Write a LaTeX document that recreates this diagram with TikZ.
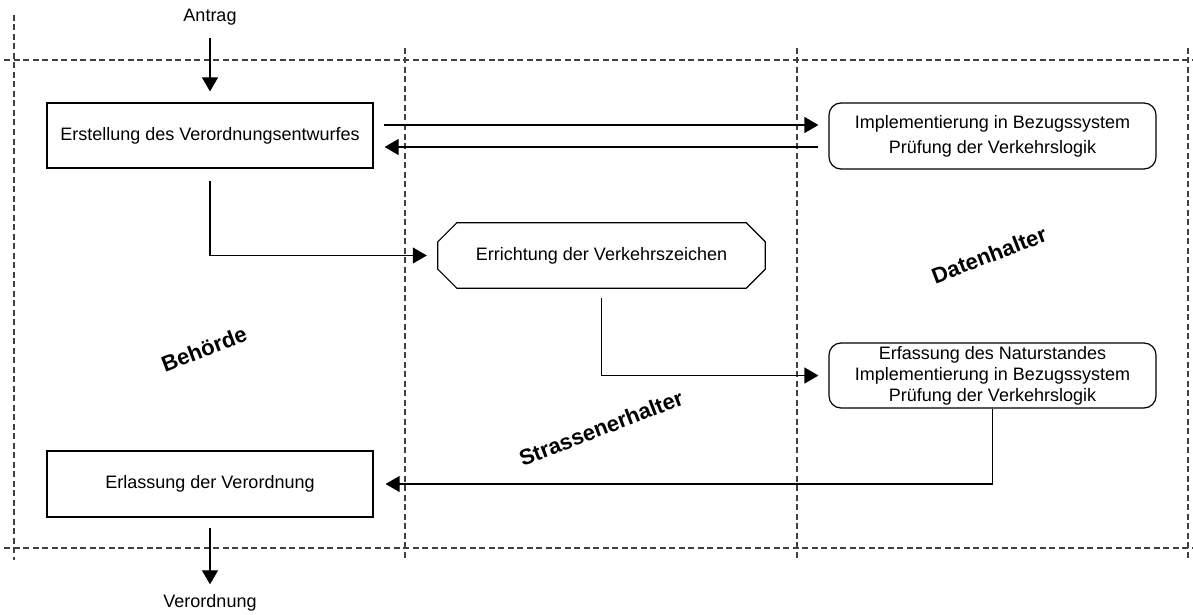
\documentclass[tikz,border=0pt]{standalone}
\usepackage{fontspec}
\setmainfont{Liberation Sans}
\usetikzlibrary{arrows.meta,calc}
\begin{document}
\begin{tikzpicture}[x=1pt,y=-1pt,
  lane/.style={draw=black!75,line width=1.3pt,dash pattern=on 6pt off 3.5pt},
  txt/.style={font=\fontsize{18}{21}\selectfont,inner sep=0pt,text height=13pt,text depth=4pt},
  rectbox/.style={draw,line width=1.2pt,inner sep=0pt,font=\fontsize{18}{21}\selectfont,align=center},
  rbox/.style={rectbox,rounded corners=12pt},
  lanelabel/.style={font=\bfseries\fontsize{22}{24}\selectfont,rotate=21},
  arr/.style={line width=1.2pt,-{Triangle[length=14pt,width=16pt]}},
]
\useasboundingbox (0,0) rectangle (1193,615);
% swimlane lines
\draw[lane] (4,60) -- (1193,60);
\draw[lane] (4,548) -- (1193,548);
\draw[lane] (14,15) -- (14,560);
\draw[lane] (405,48) -- (405,558);
\draw[lane] (797,48) -- (797,558);
\draw[lane] (1188,48) -- (1188,558);
% lane labels
\node[lanelabel] (behoerde) at (204,349) {Behörde};
\node[lanelabel] (strasse) at (601,428) {Strassenerhalter};
\node[lanelabel] (daten) at (989,255) {Datenhalter};
% nodes
\node[txt] (antrag) at (210,17) {Antrag};
\node[txt] (verordnung) at (210,603) {Verordnung};
\node[rectbox,minimum width=326pt,minimum height=65pt] (ersteller) at (210,135.5) {Erstellung des Verordnungsentwurfes};
\node[rectbox,minimum width=326pt,minimum height=66pt] (erl) at (210,484) {Erlassung der Verordnung};
\node[rbox,minimum width=327pt,minimum height=66pt,font=\fontsize{18}{25}\selectfont] (rb1) at (992.5,136) {Implementierung in Bezugssystem\\Prüfung der Verkehrslogik};
\node[rbox,minimum width=327pt,minimum height=65pt,font=\fontsize{18}{21}\selectfont] (rb2) at (992.5,375.5) {Erfassung des Naturstandes\\Implementierung in Bezugssystem\\Prüfung der Verkehrslogik};
\node[inner sep=0pt,minimum width=327pt,minimum height=65pt,font=\fontsize{18}{21}\selectfont] (oct) at (601.5,255.5) {Errichtung der Verkehrszeichen};
\draw[line width=1.2pt] ([xshift=19pt]oct.north west) -- ([xshift=-19pt]oct.north east)
  -- ([yshift=-19pt]oct.north east) -- ([yshift=19pt]oct.south east)
  -- ([xshift=-19pt]oct.south east) -- ([xshift=19pt]oct.south west)
  -- ([yshift=19pt]oct.south west) -- ([yshift=-19pt]oct.north west) -- cycle;
% connectors
\draw[arr,shorten <=12.5pt,shorten >=11pt] (antrag.south) -- (ersteller.north);
\draw[arr,shorten <=10pt,shorten >=10pt] (erl.south) -- (verordnung.north);
\draw[arr,shorten <=12pt,shorten >=11pt] (ersteller.south) |- (oct.west);
\draw[arr,shorten <=10pt,shorten >=10pt] (oct.south) |- (rb2.west);
\draw[arr,shorten <=10pt,shorten >=10pt] ($(ersteller.east|-rb1.west)+(0,-11)$) -- ($(rb1.west)+(0,-11)$);
\draw[arr,shorten <=10pt,shorten >=11pt] ($(rb1.west)+(0,11)$) -- ($(ersteller.east|-rb1.west)+(0,11)$);
\draw[arr,shorten >=12pt] (rb2.south) |- (erl.east);
\end{tikzpicture}
\end{document}
